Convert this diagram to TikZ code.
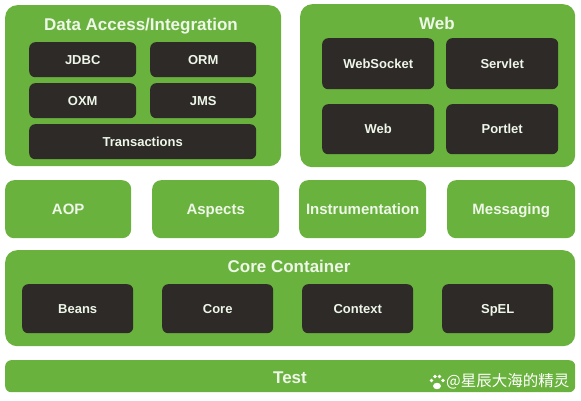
\documentclass[tikz,border=0pt]{standalone}
\usepackage{fontspec}
\setmainfont{Liberation Sans}
\newfontfamily\cjk{Noto Sans CJK SC}
\definecolor{sgreen}{HTML}{6AB23E}
\definecolor{dbox}{HTML}{2D2A28}
\definecolor{ltxt}{HTML}{EEF6E8}
\begin{document}
\begin{tikzpicture}[x=1pt,y=-1pt,
  greenbox/.style={fill=sgreen, rounded corners=12pt, inner sep=0pt, anchor=north west},
  darkbox/.style={fill=dbox, rounded corners=6pt, inner sep=0pt, anchor=north west, text=ltxt, font=\fontsize{13}{15}\selectfont\bfseries, text height=9.4pt, text depth=0pt},
  midbox/.style={fill=sgreen, rounded corners=9pt, inner sep=0pt, anchor=north west, text=ltxt, font=\fontsize{15}{17}\selectfont\bfseries, text height=10.8pt, text depth=0pt},
  title/.style={text=ltxt, font=\fontsize{17}{19}\selectfont\bfseries, inner sep=0pt, text height=12.2pt, text depth=0pt}
]
\useasboundingbox (0,0) rectangle (581,401);
\fill[white] (0,0) rectangle (581,401);
% Data Access
\node[greenbox, minimum width=276pt, minimum height=161pt] (da) at (5,5) {};
\node[title] (datitle) at (141,24) {Data Access/Integration};
\node[darkbox, minimum width=107pt, minimum height=35pt] (jdbc) at (29,42) {JDBC};
\node[darkbox, minimum width=106pt, minimum height=35pt] (orm) at (150,42) {ORM};
\node[darkbox, minimum width=107pt, minimum height=35pt] (oxm) at (29,83) {OXM};
\node[darkbox, minimum width=106pt, minimum height=35pt] (jms) at (150,83) {JMS};
\node[darkbox, minimum width=227pt, minimum height=35pt] (tx) at (29,124) {Transactions};
% Web
\node[greenbox, minimum width=275pt, minimum height=163pt] (web) at (300,4) {};
\node[title] (webtitle) at (437,23) {Web};
\node[darkbox, minimum width=112pt, minimum height=51pt] (ws) at (322,38) {WebSocket};
\node[darkbox, minimum width=112pt, minimum height=51pt] (servlet) at (446,38) {Servlet};
\node[darkbox, minimum width=112pt, minimum height=50pt] (webm) at (322,104) {Web};
\node[darkbox, minimum width=112pt, minimum height=50pt] (portlet) at (446,104) {Portlet};
% middle row
\node[midbox, minimum width=126pt, minimum height=58pt] (aop) at (5,180) {AOP};
\node[midbox, minimum width=127pt, minimum height=58pt] (aspects) at (152,180) {Aspects};
\node[midbox, minimum width=127pt, minimum height=58pt] (instr) at (299,180) {Instrumentation};
\node[midbox, minimum width=128pt, minimum height=58pt] (msg) at (447,180) {Messaging};
% Core container
\node[greenbox, minimum width=570pt, minimum height=96pt] (cc) at (5,250) {};
\node[title] (cctitle) at (289,266) {Core Container};
\node[darkbox, minimum width=111pt, minimum height=49pt] (beans) at (22,284) {Beans};
\node[darkbox, minimum width=111pt, minimum height=49pt] (core) at (162,284) {Core};
\node[darkbox, minimum width=111pt, minimum height=49pt] (ctx) at (302,284) {Context};
\node[darkbox, minimum width=111pt, minimum height=49pt] (spel) at (442,284) {SpEL};
% Test
\node[greenbox, rounded corners=6pt, minimum width=570pt, minimum height=32pt] (test) at (5,360) {};
\node[title] (testtitle) at (290,377) {Test};
% watermark
\fill[white] (437,386) ellipse (4pt and 3.2pt);
\fill[white] (431.5,380.5) circle (1.8pt);
\fill[white] (435,376.5) circle (1.8pt);
\fill[white] (439.5,376.5) circle (1.8pt);
\fill[white] (443,380.5) circle (1.8pt);
\node[anchor=west, text=white, inner sep=0pt, font=\cjk\fontsize{15.5}{17}\selectfont] (wm) at (446,381) {@星辰大海的精灵};
\end{tikzpicture}
\end{document}
